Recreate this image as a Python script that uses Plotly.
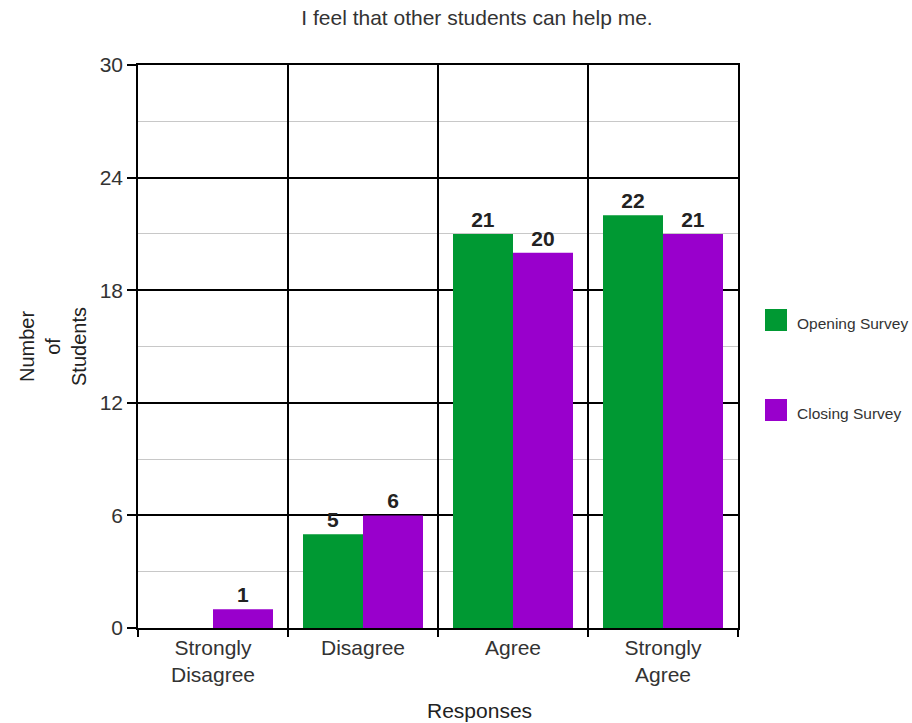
import plotly.graph_objects as go

categories = ["Strongly<br>Disagree", "Disagree", "Agree", "Strongly<br>Agree"]
opening = [0, 5, 21, 22]
closing = [1, 6, 20, 21]
series_names = ["Opening Survey", "Closing Survey"]
colors = ["#009933", "#9900cc"]
y_ticks = [0, 6, 12, 18, 24, 30]

FONT = "Liberation Sans, Arial, sans-serif"

fig = go.Figure()
for name, vals, col in zip(series_names, [opening, closing], colors):
    fig.add_trace(go.Bar(
        x=list(range(len(categories))), y=vals, name=name, marker_color=col,
        marker_line_width=0,
        text=[str(v) if v else "" for v in vals], textposition="outside",
        textfont=dict(family=FONT, size=21, color="#222"),
        texttemplate="<b>%{text}</b>", cliponaxis=False, showlegend=False,
    ))

# boundary grid via overlay axis
fig.add_trace(go.Scatter(x=[-0.5, 3.5], y=[0, 0], xaxis="x2", mode="lines",
                         line=dict(width=0), showlegend=False, hoverinfo="skip"))

fig.update_layout(
    width=912, height=723,
    margin=dict(l=138, r=174, t=65, b=95),
    plot_bgcolor="white", paper_bgcolor="white",
    barmode="group", bargap=0.2, bargroupgap=0,
    font=dict(family=FONT, color="#333"),
    xaxis=dict(
        range=[-0.5, 3.5], tickvals=list(range(len(categories))), ticktext=categories,
        showgrid=False, ticks="", tickfont=dict(size=21, color="#333"),
        showline=True, linecolor="black", linewidth=1.5, mirror=True,
    ),
    xaxis2=dict(
        overlaying="x", anchor="y", side="bottom", range=[-0.5, 3.5],
        tickvals=[-0.5, 0.5, 1.5, 2.5, 3.5], showticklabels=False,
        ticks="outside", ticklen=8, tickcolor="black", tickwidth=1.5,
        showgrid=True, gridcolor="black", gridwidth=1.5, zeroline=False,
    ),
    yaxis=dict(
        range=[0, 30], tickvals=y_ticks, ticks="outside", ticklen=9,
        tickcolor="black", tickwidth=1.5, tickfont=dict(size=21, color="#333"),
        showgrid=True, gridcolor="black", gridwidth=1.5, zeroline=False,
        showline=True, linecolor="black", linewidth=1.5, mirror=True,
        minor=dict(dtick=3, showgrid=True, gridcolor="#c8c8c8", gridwidth=1.2, ticks=""),
        title=dict(text="Number<br>of<br>Students", font=dict(size=20, color="#222"), standoff=8),
    ),
    title=dict(text="I feel that other students can help me.", x=0.523, xanchor="center",
               y=0.975, yanchor="middle", font=dict(size=21, color="#333")),
)

fig.add_annotation(text="Responses", xref="paper", yref="paper", x=(480 - 138) / 600,
                   y=-(710 - 628) / 563, xanchor="center", yanchor="middle",
                   showarrow=False, font=dict(size=21, color="#222"))

# custom legend
legend_y = [320, 410]
for name, col, yy in zip(series_names, colors, legend_y):
    py = 1 - (yy - 65) / 563
    fig.add_shape(type="rect", xref="paper", yref="paper",
                  x0=(765 - 138) / 600, x1=(787 - 138) / 600,
                  y0=py - 11 / 563, y1=py + 11 / 563,
                  fillcolor=col, line_width=0)
    fig.add_annotation(text=name, xref="paper", yref="paper", x=(795 - 138) / 600, y=py - 3 / 563,
                       xanchor="left", yanchor="middle", showarrow=False,
                       font=dict(size=15.5, color="#333"))

fig.write_html("out.html")
